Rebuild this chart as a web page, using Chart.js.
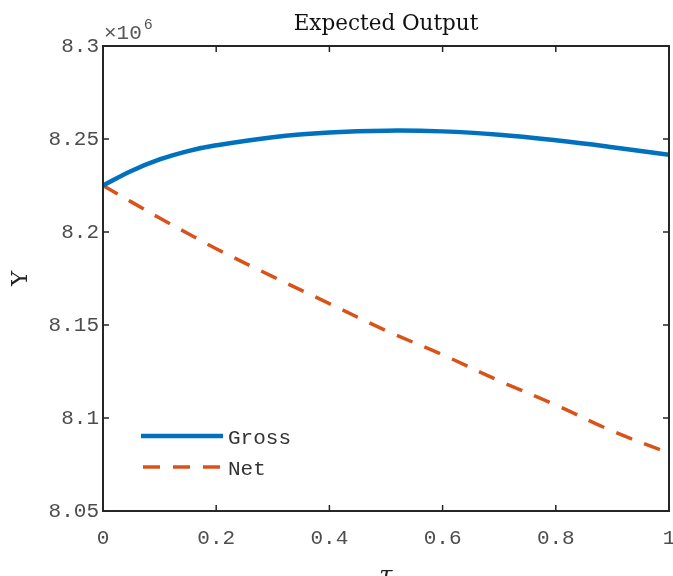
<!DOCTYPE html>
<html>
<head>
<meta charset="utf-8">
<script src="https://cdn.jsdelivr.net/npm/chart.js@4.4.0/dist/chart.umd.min.js"></script>
<style>
  html, body { margin: 0; padding: 0; background: #fff; }
  #wrap { width: 673px; height: 576px; position: relative; }
</style>
</head>
<body>
<div id="wrap"><canvas id="outputChart"></canvas></div>
<script>
// dados (Y em milhoes, x10^6)
var tauValues   = [0, 0.05, 0.1, 0.15, 0.2, 0.3, 0.4, 0.5, 0.6, 0.7, 0.8, 0.9, 1.0];
var grossValues = [8.2250, 8.2328, 8.2390, 8.2435, 8.2466, 8.2510, 8.2535, 8.2545, 8.2541, 8.2523, 8.2493, 8.2456, 8.2415];
var netValues   = [8.2250, 8.2162, 8.2075, 8.1992, 8.1910, 8.1760, 8.1615, 8.1470, 8.1340, 8.1200, 8.1070, 8.0930, 8.0812];
var xTicks = [0, 0.2, 0.4, 0.6, 0.8, 1];
var yTicks = [8.05, 8.1, 8.15, 8.2, 8.25, 8.3];
var seriesNames = ['Gross', 'Net'];

function toPoints(xs, ys) {
  return xs.map(function (x, i) { return { x: x, y: ys[i] }; });
}

var monoFont = '"Liberation Mono", "DejaVu Sans Mono", monospace';
var serifFont = '"DejaVu Serif", "Liberation Serif", serif';

// moldura, ticks para dentro, titulo, legenda
var matlabLook = {
  id: 'matlabLook',
  afterDatasetsDraw: function (chart) {
    var ctx = chart.ctx;
    var a = chart.chartArea;
    var xs = chart.scales.x, ys = chart.scales.y;
    ctx.save();
    ctx.strokeStyle = '#262626';
    ctx.lineWidth = 2;
    ctx.strokeRect(a.left, a.top, a.right - a.left, a.bottom - a.top);

    ctx.lineWidth = 1.5;
    var tl = 6;
    xTicks.forEach(function (t) {
      var px = xs.getPixelForValue(t);
      ctx.beginPath();
      ctx.moveTo(px, a.bottom); ctx.lineTo(px, a.bottom - tl);
      ctx.moveTo(px, a.top); ctx.lineTo(px, a.top + tl);
      ctx.stroke();
    });
    yTicks.forEach(function (t) {
      var py = ys.getPixelForValue(t);
      ctx.beginPath();
      ctx.moveTo(a.left, py); ctx.lineTo(a.left + tl, py);
      ctx.moveTo(a.right, py); ctx.lineTo(a.right - tl, py);
      ctx.stroke();
    });

    // titulo
    ctx.fillStyle = '#111';
    ctx.font = '21.5px ' + serifFont;
    ctx.textAlign = 'center';
    ctx.textBaseline = 'alphabetic';
    ctx.fillText('Expected Output', (a.left + a.right) / 2, 30);

    // x10^6
    ctx.fillStyle = '#555';
    ctx.textAlign = 'left';
    ctx.font = '21px ' + monoFont;
    ctx.fillText('\u00d710', a.left + 1, 39);
    var w = ctx.measureText('\u00d710').width;
    ctx.font = '15px ' + monoFont;
    ctx.fillText('6', a.left + 3 + w, 29);

    // rotulos dos eixos
    ctx.fillStyle = '#222';
    ctx.font = '23px ' + serifFont;
    ctx.save();
    ctx.translate(27, (a.top + a.bottom) / 2);
    ctx.rotate(-Math.PI / 2);
    ctx.textAlign = 'center';
    ctx.fillText('Y', 0, 0);
    ctx.restore();
    ctx.font = 'italic 24px ' + serifFont;
    ctx.textAlign = 'center';
    ctx.fillText('\u03c4', (a.left + a.right) / 2, 583);

    // legenda
    var lx = a.left + 38, ly = 436;
    chart.data.datasets.forEach(function (ds, i) {
      var y = ly + i * 31;
      ctx.strokeStyle = ds.borderColor;
      ctx.lineWidth = ds.borderWidth;
      ctx.setLineDash(ds.borderDash || []);
      ctx.beginPath();
      ctx.moveTo(lx + (ds.borderDash ? 2 : 0), y);
      ctx.lineTo(lx + 82, y);
      ctx.stroke();
      ctx.setLineDash([]);
      ctx.fillStyle = '#333';
      ctx.font = '21px ' + monoFont;
      ctx.textAlign = 'left';
      ctx.textBaseline = 'middle';
      ctx.fillText(ds.label, lx + 87, y + 2);
    });
    ctx.restore();
  }
};

new Chart(document.getElementById('outputChart'), {
  type: 'line',
  data: {
    datasets: [{
      label: seriesNames[0],
      data: toPoints(tauValues, grossValues),
      borderColor: '#0072BD',
      borderWidth: 4.5,
      pointRadius: 0,
      tension: 0.4,
      fill: false
    }, {
      label: seriesNames[1],
      data: toPoints(tauValues, netValues),
      borderColor: '#D95319',
      borderWidth: 3.5,
      borderDash: [17, 13],
      pointRadius: 0,
      tension: 0.4,
      fill: false
    }]
  },
  plugins: [matlabLook],
  options: {
    responsive: true,
    maintainAspectRatio: false,
    animation: false,
    layout: { padding: { top: 46, right: 4, left: 0, bottom: 0 } },
    plugins: {
      legend: { display: false },
      tooltip: { enabled: false }
    },
    scales: {
      x: {
        type: 'linear',
        min: 0,
        max: 1,
        grid: { display: false, drawTicks: false, tickLength: 0 },
        border: { display: false },
        afterFit: function (s) { s.height = 65; s.paddingLeft = 0; s.paddingRight = 0; },
        afterBuildTicks: function (s) { s.ticks = xTicks.map(function (v) { return { value: v }; }); },
        ticks: {
          color: '#4d4d4d',
          font: { family: monoFont, size: 21 },
          padding: 15,
          maxRotation: 0,
          callback: function (v) { return String(v); }
        }
      },
      y: {
        type: 'linear',
        min: 8.05,
        max: 8.3,
        grid: { display: false, drawTicks: false, tickLength: 0 },
        border: { display: false },
        afterFit: function (s) { s.width = 103; s.paddingTop = 0; s.paddingBottom = 0; },
        afterBuildTicks: function (s) { s.ticks = yTicks.map(function (v) { return { value: v }; }); },
        ticks: {
          color: '#4d4d4d',
          font: { family: monoFont, size: 21 },
          padding: 4,
          callback: function (v) { return String(Number(v.toFixed(2))); }
        }
      }
    }
  }
});
</script>
</body>
</html>
